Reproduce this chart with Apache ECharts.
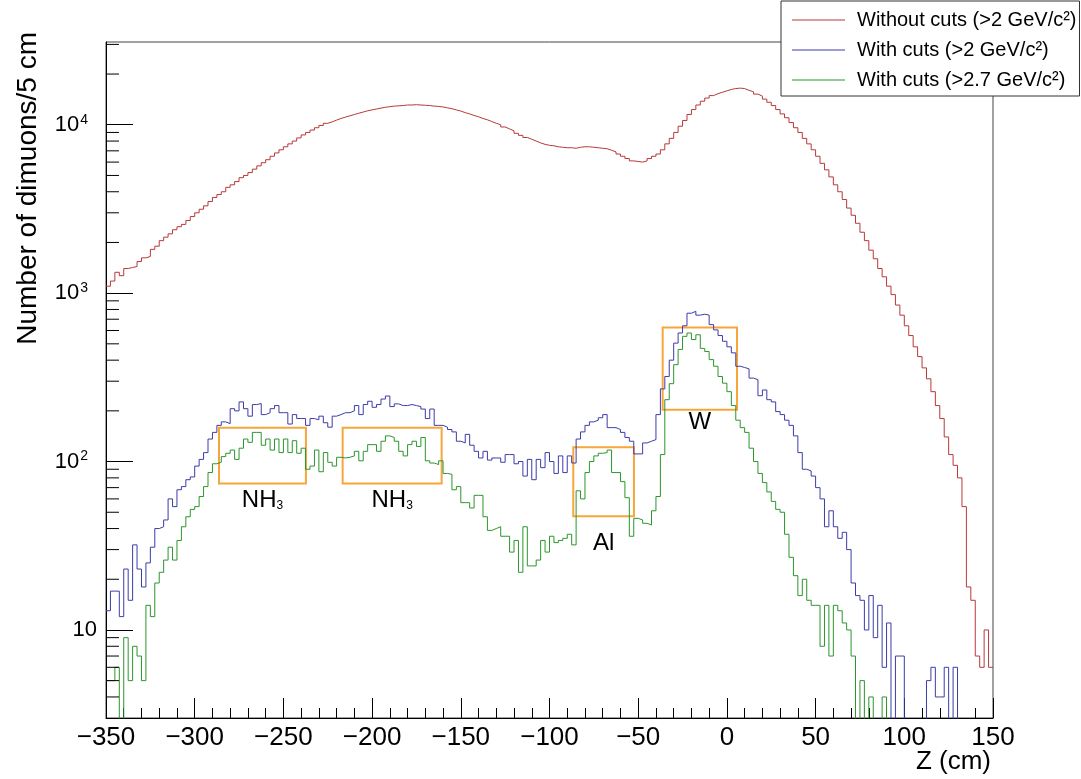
<!DOCTYPE html>
<html>
<head>
<meta charset="utf-8">
<script src="https://cdn.jsdelivr.net/npm/echarts@6/dist/echarts.min.js"></script>
<style>
html,body{margin:0;padding:0;background:#fff;}
#chart{width:1081px;height:779px;}
</style>
</head>
<body>
<div id="chart"></div>
<script>
// ---- data (counts per 2.5 cm bin, Z from -350 to 150) ----
const zStart = -350;
const binWidth = 2.5;

const withoutCuts2 = [
  1100,1180,1330,1270,1400,1420,1440,1540,1620,1650,
  1820,1900,2050,2150,2250,2380,2480,2560,2700,2850,
  3000,3150,3300,3500,3700,3850,4000,4250,4400,4600,
  4850,5000,5200,5450,5700,5950,6200,6500,6800,7100,
  7400,7700,8000,8350,8700,9000,9300,9600,9900,10200,
  10400,10650,10900,11100,11300,11500,11700,11900,12100,12250,
  12400,12550,12700,12800,12900,12950,13000,13100,13100,13150,
  13100,13050,13000,12900,12850,12750,12600,12450,12250,12050,
  11800,11600,11350,11150,10900,10700,10450,10200,10000,9700,
  9450,9200,8900,8650,8400,8200,8000,7800,7650,7550,
  7500,7400,7350,7300,7300,7250,7350,7400,7400,7350,
  7300,7250,7200,7050,6900,6700,6500,6300,6100,6050,
  6000,6100,6300,6500,6700,7100,7700,8300,9000,9800,
  10600,11500,12300,13100,13800,14400,14900,15300,15600,15900,
  16200,16400,16500,16400,16000,15700,15200,14800,14200,13600,
  13000,12300,11600,11000,10300,9600,9000,8300,7700,7100,
  6500,5900,5400,4900,4400,4000,3600,3200,2900,2600,
  2300,2050,1800,1600,1400,1250,1100,980,850,740,
  640,560,480,420,360,310,260,215,180,140,
  110,95,80,54,18,15,7,6,10,6
];

const withCuts2 = [
  13,17,17,12,23,15,32,23,18,25,
  31,40,41,45,60,54,68,71,78,81,
  94,103,113,136,149,164,172,168,206,200,
  226,206,186,218,221,190,195,206,215,195,
  195,167,190,180,180,164,180,177,186,170,
  160,186,190,195,195,200,215,190,218,228,
  210,218,235,245,212,220,215,215,218,215,
  212,205,180,205,164,164,160,155,150,132,
  129,145,125,115,105,115,102,105,105,99,
  110,110,97,100,82,103,78,103,92,113,
  100,85,108,86,108,98,136,150,164,172,
  176,182,190,159,159,155,149,139,132,111,
  111,129,132,135,190,270,320,400,505,580,
  640,760,780,740,750,740,650,605,560,518,
  480,442,368,362,355,313,306,246,266,233,
  226,198,190,176,164,142,113,90,88,82,
  70,60,41,51,41,35,38,30,19,16,
  15,10,16,9,14,6,11,0,7,7,
  0,0,0,0,0,5,6,4,4,6,
  0,6,0,0,0,0,0,0,0,0
];

const withCuts27 = [
  5,5,6,0,9,5,8,7,5,14,
  12,19,22,26,31,26,34,41,47,52,
  54,62,71,86,97,99,107,112,117,103,
  120,136,130,149,149,125,136,117,136,113,
  136,113,133,112,120,90,94,117,87,113,
  99,94,106,105,106,108,115,101,115,126,
  126,115,132,142,139,132,115,108,126,132,
  123,139,101,98,96,101,85,84,68,71,
  57,57,53,63,63,47,39,40,41,36,
  36,29,34,22,41,24,24,26,34,29,
  36,33,34,35,37,32,67,60,86,100,
  108,112,113,117,86,86,76,61,36,46,
  45,43,42,51,62,110,233,290,376,463,
  554,580,530,566,470,450,403,368,320,292,
  260,215,176,159,149,120,100,85,75,66,
  58,52,50,37,27,21,16,20,15,14,
  14,8,14,7,14,13,11,10,7,0,
  5,0,4,0,0,4,0,0,0,0,
  0,0,0,0,0,0,0,0,0,0,
  0,0,0,0,0,0,0,0,0,0
];

const seriesNames = ['Without cuts (>2 GeV/c\u00b2)', 'With cuts (>2 GeV/c\u00b2)', 'With cuts (>2.7 GeV/c\u00b2)'];
const xTitle = 'Z (cm)';
const yTitle = 'Number of dimuons/5 cm';

// target regions (Z range, count range) and their labels
const boxZ = [[-286.3, -237.3], [-216.6, -160.8], [-86.6, -52.4], [-36.2, 5.7]];
const boxCounts = [[74, 159], [74, 159], [47.4, 121.5], [203, 625]];
const boxLabels = ['NH{s|3}', 'NH{s|3}', 'Al', 'W'];

// y minor tick values (log axis)
const yMinorTicks = [4,5,6,7,8,9,20,30,40,50,60,70,80,90,200,300,400,500,600,700,800,900,
  2000,3000,4000,5000,6000,7000,8000,9000,20000,30000];

// ---- build ----
const FLOOR = 0.5; // empty bins drawn below the axis minimum (clipped)
function histData(counts) {
  const pts = counts.map((c, i) => [zStart + i * binWidth, c > 0 ? c : FLOOR]);
  const last = counts[counts.length - 1];
  pts.push([zStart + counts.length * binWidth, last > 0 ? last : FLOOR]);
  return pts;
}

const colors = ['#b83838', '#3c3ca8', '#2b962b'];
const orange = '#f7a63c';
const FONT = '"Liberation Sans", Arial, Helvetica, sans-serif';

const labelDist = [4, 4, 14, 0];
const markAreaData = boxZ.map((z, k) => [
  { xAxis: z[0], yAxis: boxCounts[k][1],
    label: { show: true, position: 'bottom', distance: labelDist[k], formatter: boxLabels[k] } },
  { xAxis: z[1], yAxis: boxCounts[k][0] }
]);

const chart = echarts.init(document.getElementById('chart'), null, { renderer: 'canvas' });

function lineSeries(name, counts, color, extra) {
  return Object.assign({
    name: name,
    type: 'line',
    step: 'end',
    data: histData(counts),
    showSymbol: false,
    symbol: 'none',
    clip: true,
    lineStyle: { color: color, width: 1 },
    itemStyle: { color: color },
    animation: false,
    z: 3
  }, extra || {});
}

const option = {
  animation: false,
  backgroundColor: '#fff',
  grid: { left: 106, right: 88, top: 42, bottom: 61, containLabel: false, outerBoundsMode: 'none',
          show: true, borderColor: '#444', borderWidth: 1, backgroundColor: 'transparent' },
  legend: {
    data: seriesNames,
    orient: 'vertical',
    left: 781, top: 1,
    backgroundColor: '#fff',
    borderColor: '#333', borderWidth: 1,
    padding: [9, 3, 6, 11],
    itemGap: 10,
    itemWidth: 53, itemHeight: 1,
    icon: 'rect',
    textStyle: { fontSize: 20, fontFamily: FONT, color: '#000', padding: [0, 0, 0, 7] },
    z: 10
  },
  xAxis: {
    type: 'value',
    min: -350, max: 150, interval: 50,
    axisLine: { show: true, onZero: false, lineStyle: { color: '#000', width: 1 } },
    axisTick: { show: true, inside: true, length: 20, lineStyle: { color: '#000' } },
    minorTick: { show: true, splitNumber: 5, length: 10, lineStyle: { color: '#000' } },
    splitLine: { show: false },
    axisLabel: {
      fontSize: 26, fontFamily: FONT, color: '#000', margin: 7,
      formatter: v => (v < 0 ? '\u2212' + Math.abs(v) : String(v))
    }
  },
  yAxis: {
    type: 'log',
    logBase: 10,
    min: 3, max: 31000,
    axisLine: { show: true, onZero: false, lineStyle: { color: '#000', width: 1 } },
    axisTick: { show: true, inside: true, length: 27, lineStyle: { color: '#000' } },
    splitLine: { show: false },
    axisLabel: {
      fontSize: 22, fontFamily: FONT, color: '#000', margin: 9,
      showMinLabel: false, showMaxLabel: false,
      formatter: function (v) {
        const e = Math.round(Math.log10(v));
        if (Math.abs(Math.log10(v) - e) > 1e-6) return '';
        if (e === 1) return '10';
        return '{b|10}{sup|' + e + '}';
      },
      rich: {
        b: { fontSize: 22, fontFamily: FONT, color: '#000' },
        sup: { fontSize: 14, fontFamily: FONT, color: '#000', padding: [0, 9, 10, 1] }
      }
    }
  },
  graphic: [
    {
      type: 'text',
      x: 28, y: 32,
      rotation: Math.PI / 2,
      style: { text: yTitle, font: '28px ' + FONT, fill: '#000', align: 'right', verticalAlign: 'middle' },
      z: 10
    },
    {
      type: 'text',
      x: 991, y: 749,
      style: { text: xTitle, font: '26px ' + FONT, fill: '#000', align: 'right', verticalAlign: 'top' },
      z: 10
    }
  ],
  series: [
    lineSeries(seriesNames[0], withoutCuts2, colors[0]),
    lineSeries(seriesNames[1], withCuts2, colors[1]),
    lineSeries(seriesNames[2], withCuts27, colors[2], {
      markArea: {
        silent: true,
        itemStyle: { color: 'rgba(0,0,0,0)', borderColor: orange, borderWidth: 2 },
        label: {
          show: true, color: '#000', fontSize: 24, fontFamily: FONT,
          rich: { s: { fontSize: 12, fontFamily: FONT, color: '#000', padding: [10, 0, 0, 0] } }
        },
        data: markAreaData
      }
    }),
    {
      name: 'yMinorTicks',
      type: 'custom',
      data: yMinorTicks.map(v => [zStart, v]),
      encode: { x: 0, y: 1 },
      silent: true,
      clip: false,
      z: 4,
      renderItem: function (params, api) {
        const p = api.coord([api.value(0), api.value(1)]);
        return {
          type: 'line',
          shape: { x1: p[0], y1: p[1], x2: p[0] + 13, y2: p[1] },
          style: { stroke: '#000', lineWidth: 1 }
        };
      }
    }
  ]
};

chart.setOption(option);
</script>
</body>
</html>
